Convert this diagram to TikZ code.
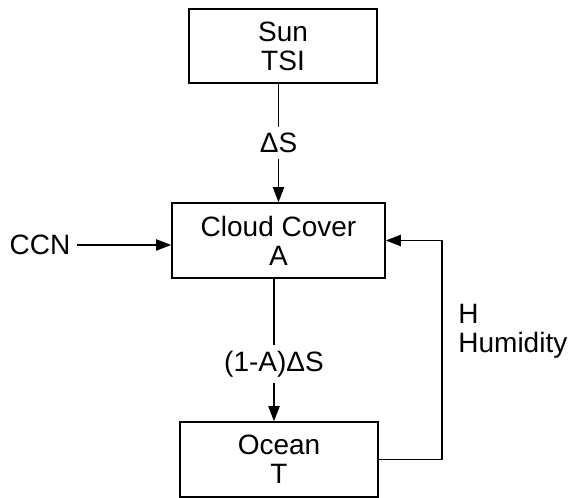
\documentclass[tikz,border=0pt]{standalone}
\usepackage{fontspec}
\setmainfont{Liberation Sans}
\usetikzlibrary{arrows.meta,calc,positioning}
\begin{document}
\begin{tikzpicture}[x=0.5pt,y=-0.5pt,>={Triangle[length=7.5pt,width=5.6pt]},font=\fontsize{14}{14.5}\selectfont,
  bloc/.style={draw,line width=.8pt,align=center,inner sep=0pt},
  lien/.style={line width=.65pt}]
\useasboundingbox (0,0) rectangle (568,498);
\node[bloc,minimum width=94pt,minimum height=37pt] (sun) at (283,46) {Sun\\TSI};
\node[bloc,minimum width=106.5pt,minimum height=37.5pt] (cloud) at (278.5,240.5) {Cloud Cover\\A};
\node[bloc,minimum width=99pt,minimum height=37.5pt] (ocean) at (279,459.5) {Ocean\\T};
\node (ccn) at (40,245) {CCN};
\node[align=left,anchor=west,inner sep=0pt] (hum) at (458,331) {H\\Humidity};
\coordinate (retour) at (442,350);
\draw[lien,->] (sun.south -| cloud) -- node[fill=white,inner sep=3pt] {ΔS} (cloud.north);
\draw[lien,->] (cloud.south -| 274,0) -- node[fill=white,inner sep=3pt,pos=.6] {(1-A)ΔS} (ocean.north -| 274,0);
\draw[lien,->] (ccn.east) -- (ccn.east -| cloud.west);
\draw[lien,->] (ocean.east) -| (retour) |- (cloud.east);
\end{tikzpicture}
\end{document}
